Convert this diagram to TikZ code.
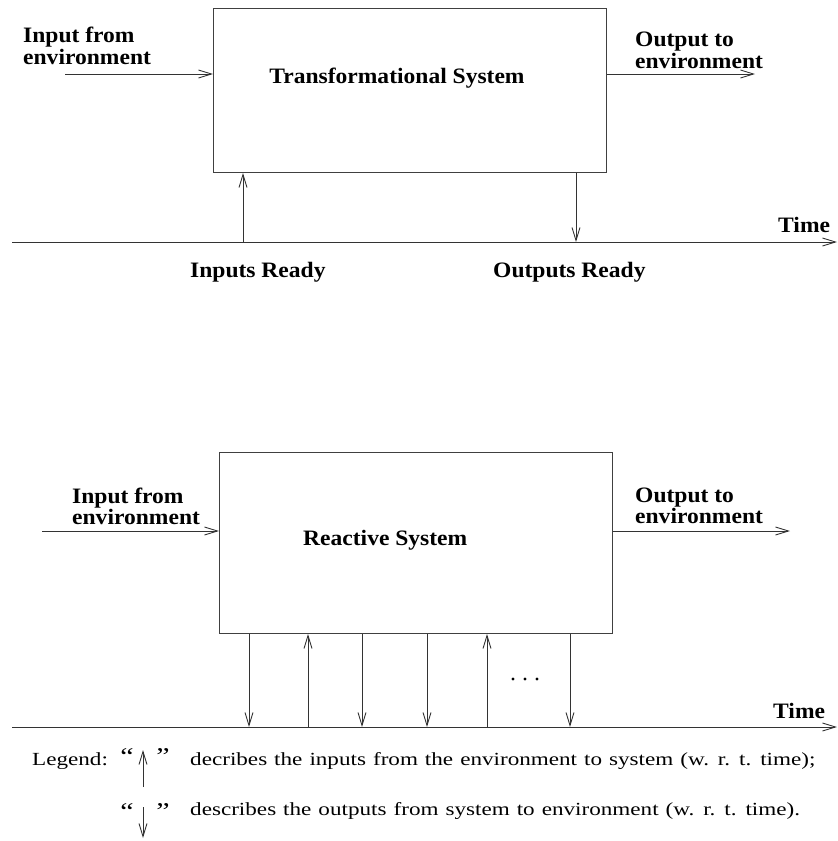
\documentclass[tikz,border=0pt]{standalone}
\usepackage{fontspec}
\setmainfont{Liberation Serif}
\newfontfamily\labelfont[FakeStretch=1.07]{Liberation Serif}
\newfontfamily\legendfont[FakeStretch=1.25]{Liberation Serif}
\newcommand\legendstyle{\legendfont\fontsize{18.5}{20}\selectfont\spaceskip 7pt\relax}
\usetikzlibrary{arrows.meta}

\begin{document}
\begin{tikzpicture}[x=1pt,y=-1pt,
  wire/.style={line width=0.9pt, draw=black!80},
  arr/.style={wire, -{Straight Barb[length=13pt,width=8pt,line width=0.9pt]}},
  sysbox/.style={draw=black!75, line width=1pt, inner sep=0pt},
  lbl/.style={font=\labelfont\bfseries\fontsize{22}{22}\selectfont, inner sep=0pt, anchor=base west},
  twoline/.style={lbl, align=left, font=\labelfont\bfseries\fontsize{22}{#1}\selectfont},
  legtext/.style={font=\legendstyle, inner sep=0pt, anchor=base west},
  quotemark/.style={font=\legendfont\fontsize{24}{24}\selectfont, inner sep=0pt, anchor=base}]
\useasboundingbox (0,0) rectangle (838,841);

% ---------- transformational system ----------
\node[sysbox, minimum width=393pt, minimum height=164pt, anchor=north west] (tbox) at (213,8) {};
\node[lbl, anchor=base] (tname) at (397,83) {Transformational System};

\node[twoline=22, anchor=north west] (tin) at (23,27) {Input from\\environment};
\coordinate (tinsrc) at (65,74);
\draw[arr] (tinsrc) -- (tinsrc -| tbox.west);

\node[twoline=22, anchor=north west] (tout) at (635,32) {Output to\\environment};
\coordinate (toutdst) at (755,74);
\draw[arr] (toutdst -| tbox.east) -- (toutdst);

% time axis
\coordinate (tax0) at (12,242);
\coordinate (tax1) at (837,242);
\draw[arr] (tax0) -- (tax1);
\node[lbl] (ttime) at (778,232) {Time};

\coordinate (tready) at (243,242);
\draw[arr] (tready) -- (tready |- tbox.south);
\coordinate (tdone) at (576,242);
\draw[arr] (tdone |- tbox.south) -- (tdone);

\node[lbl] (tinr) at (190,277) {Inputs Ready};
\node[lbl] (toutr) at (493,277) {Outputs Ready};

% ---------- reactive system ----------
\node[sysbox, minimum width=393pt, minimum height=181pt, anchor=north west] (rbox) at (219,452) {};
\node[lbl] (rname) at (303,545) {Reactive System};

\node[twoline=19, anchor=north west] (rin) at (72,488) {Input from\\environment};
\coordinate (rinsrc) at (42,531);
\draw[arr] (rinsrc) -- (rinsrc -| rbox.west);

\node[twoline=19, anchor=north west] (rout) at (635,488) {Output to\\environment};
\coordinate (routdst) at (790,531);
\draw[arr] (routdst -| rbox.east) -- (routdst);

\coordinate (rax0) at (12,727);
\coordinate (rax1) at (837,727);
\draw[arr] (rax0) -- (rax1);
\node[lbl] (rtime) at (773,718) {Time};

% events along the time line
\coordinate (e1) at (249,727);
\coordinate (e2) at (308,727);
\coordinate (e3) at (362,727);
\coordinate (e4) at (427,727);
\coordinate (e5) at (487,727);
\coordinate (e6) at (570,727);
\draw[arr] (e1 |- rbox.south) -- (e1);
\draw[arr] (e2) -- (e2 |- rbox.south);
\draw[arr] (e3 |- rbox.south) -- (e3);
\draw[arr] (e4 |- rbox.south) -- (e4);
\draw[arr] (e5) -- (e5 |- rbox.south);
\draw[arr] (e6 |- rbox.south) -- (e6);
\foreach \dx in {513,525,537}
  \fill[black] (\dx,679) circle (1.6pt);

% ---------- legend ----------
\node[legtext] (legend) at (32,765) {Legend:};
\node[quotemark] (lq1) at (127,764) {“};
\node[quotemark] (rq1) at (163,764) {”};
\coordinate (upt) at (143,787);
\draw[arr] (upt) -- ++(0,-37);
\node[legtext] (leg1) at (190,765) {decribes the inputs from the environment to system (w. r. t. time);};

\node[quotemark] (lq2) at (127,819) {“};
\node[quotemark] (rq2) at (163,819) {”};
\coordinate (dnt) at (143,807);
\draw[arr] (dnt) -- ++(0,31);
\node[legtext] (leg2) at (190,815) {describes the outputs from system to environment (w. r. t. time).};
\end{tikzpicture}
\end{document}
